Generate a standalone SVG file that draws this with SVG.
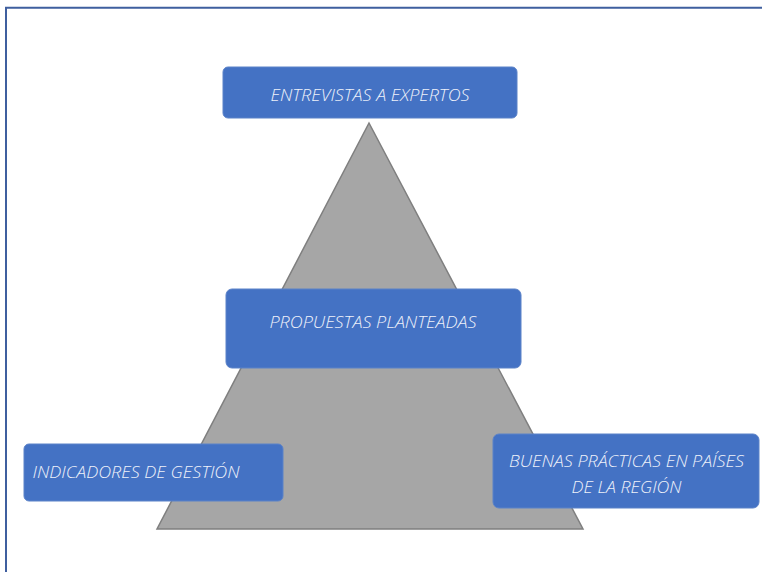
<svg xmlns="http://www.w3.org/2000/svg" width="762" height="572" viewBox="0 0 762 572">
<style>
.box{fill:#4472c4;stroke:#5b82c8;stroke-width:1}
.lbl{font-family:"Open Sans","Liberation Sans",sans-serif;font-style:italic;font-weight:300;font-size:16px;fill:#eef1fa}
</style>
<rect width="762" height="572" fill="#ffffff"/>
<path d="M6,572 V7.7 H762" fill="none" stroke="#3f5f9f" stroke-width="2"/>
<polygon points="369,123 157,529 583,529" fill="#a6a6a6" stroke="#7f7f7f" stroke-width="1.5"/>
<g id="connectors"></g>
<g id="entrevistas">
<rect class="box" x="223" y="67" width="294" height="51" rx="5"/>
<text class="lbl" x="370" y="101" text-anchor="middle" textLength="199" lengthAdjust="spacingAndGlyphs">ENTREVISTAS A EXPERTOS</text>
</g>
<g id="propuestas">
<rect class="box" x="226" y="289" width="295" height="79" rx="6"/>
<text class="lbl" x="373" y="327.5" text-anchor="middle" textLength="207" lengthAdjust="spacingAndGlyphs">PROPUESTAS PLANTEADAS</text>
</g>
<g id="indicadores">
<rect class="box" x="24" y="444" width="259" height="57" rx="5"/>
<text class="lbl" x="32.5" y="477.5" textLength="207" lengthAdjust="spacingAndGlyphs">INDICADORES DE GESTIÓN</text>
</g>
<g id="buenas">
<rect class="box" x="493" y="434" width="266" height="74" rx="6"/>
<text class="lbl" x="626.5" y="467" text-anchor="middle" textLength="235" lengthAdjust="spacingAndGlyphs">BUENAS PRÁCTICAS EN PAÍSES</text>
<text class="lbl" x="626.5" y="492.5" text-anchor="middle" textLength="110" lengthAdjust="spacingAndGlyphs">DE LA REGIÓN</text>
</g>
</svg>
